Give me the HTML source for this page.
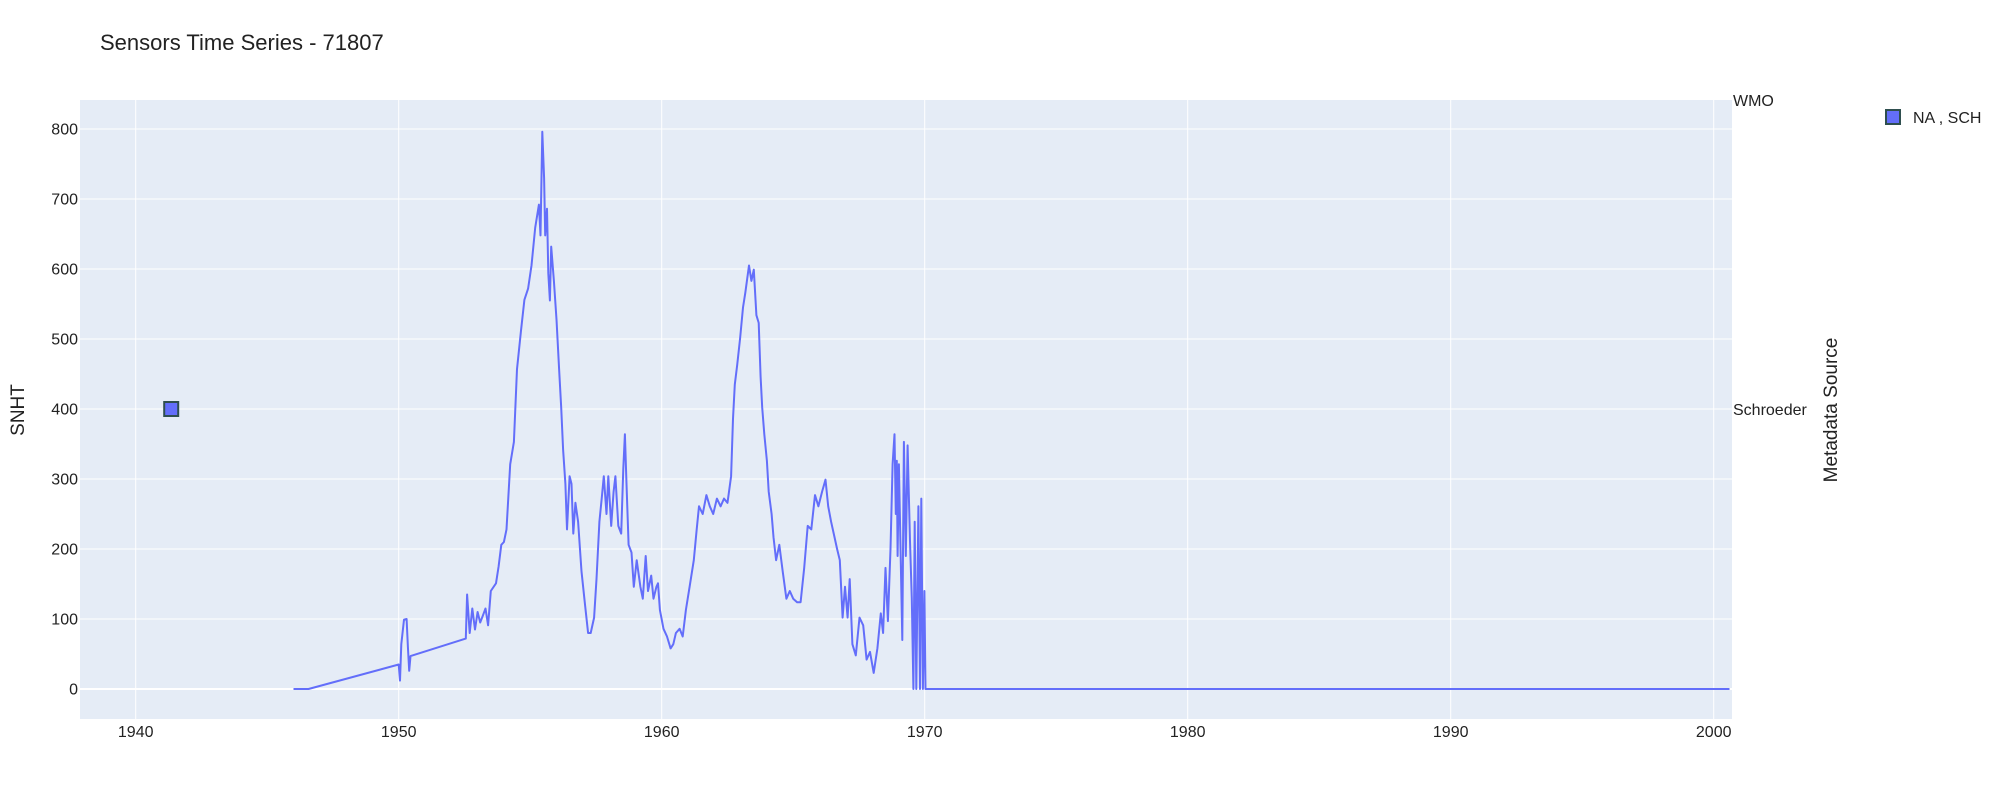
<!DOCTYPE html>
<html><head><meta charset="utf-8"><style>
html,body{margin:0;padding:0;background:#fff;}
svg{display:block;font-family:"Liberation Sans",sans-serif;}
</style></head><body>
<svg id="chart" width="2000" height="800" viewBox="0 0 2000 800">
<text x="100" y="50" font-size="22" fill="#222">Sensors Time Series - 71807</text>
<rect x="80" y="100" width="1652" height="619" fill="#e5ecf6"/>
<g id="grid"></g>
<g id="ticks"></g>
<g id="series"></g>
<text transform="translate(24,410) rotate(-90)" text-anchor="middle" font-size="19" fill="#222">SNHT</text>
<text transform="translate(1837,410) rotate(-90)" text-anchor="middle" font-size="19" fill="#222">Metadata Source</text>
<g>
<rect x="1886" y="110" width="14" height="14" fill="#636efa" stroke="#2f4f4f" stroke-width="2"/>
<text x="1913" y="123" font-size="16" fill="#222">NA , SCH</text>
</g>
</svg>
<script>
const xTicks = [1940,1950,1960,1970,1980,1990,2000];
const yTicks = [0,100,200,300,400,500,600,700,800];
const catTicks = ["WMO","Schroeder"];
const markerYears = [1941.35];
const markerCats = ["Schroeder"];
const years = [1946.0,1946.57,1950.0,1950.05,1950.1,1950.2,1950.3,1950.35,1950.4,1950.45,1952.55,1952.6,1952.7,1952.8,1952.9,1953.0,1953.1,1953.2,1953.3,1953.4,1953.5,1953.7,1953.8,1953.9,1954.0,1954.1,1954.24,1954.38,1954.5,1954.65,1954.78,1954.92,1955.05,1955.19,1955.33,1955.39,1955.46,1955.53,1955.57,1955.64,1955.69,1955.75,1955.8,1955.9,1956.0,1956.1,1956.18,1956.25,1956.34,1956.4,1956.5,1956.57,1956.64,1956.72,1956.82,1956.95,1957.09,1957.2,1957.3,1957.43,1957.52,1957.63,1957.72,1957.8,1957.9,1957.97,1958.08,1958.17,1958.24,1958.35,1958.46,1958.54,1958.6,1958.66,1958.74,1958.85,1958.94,1959.05,1959.19,1959.28,1959.39,1959.48,1959.6,1959.69,1959.8,1959.86,1959.93,1960.07,1960.2,1960.34,1960.44,1960.54,1960.68,1960.8,1960.92,1961.06,1961.22,1961.33,1961.42,1961.56,1961.7,1961.83,1961.96,1962.1,1962.24,1962.37,1962.5,1962.64,1962.71,1962.78,1962.87,1962.98,1963.09,1963.18,1963.32,1963.41,1963.5,1963.6,1963.69,1963.76,1963.82,1963.9,1964.0,1964.07,1964.18,1964.25,1964.35,1964.47,1964.6,1964.74,1964.87,1965.0,1965.15,1965.28,1965.42,1965.55,1965.69,1965.83,1965.96,1966.1,1966.23,1966.33,1966.44,1966.57,1966.67,1966.77,1966.88,1966.97,1967.07,1967.15,1967.25,1967.38,1967.52,1967.66,1967.79,1967.92,1968.06,1968.2,1968.33,1968.42,1968.51,1968.6,1968.7,1968.78,1968.85,1968.9,1968.94,1968.97,1969.02,1969.15,1969.21,1969.28,1969.35,1969.44,1969.51,1969.57,1969.62,1969.68,1969.76,1969.82,1969.87,1969.93,1969.99,1970.03,2000.6];
const values = [0,0,35,12,64,99,100,60,26,47,72,135,80,115,85,110,95,105,115,91,140,151,175,206,210,228,321,353,457,512,556,572,605,659,692,648,796,730,648,686,594,555,632,583,528,457,402,342,293,228,304,293,222,266,239,168,118,80,80,102,157,239,272,304,250,304,233,282,304,233,222,315,364,293,206,195,146,184,146,129,190,140,162,129,146,151,113,86,75,58,64,80,86,75,113,146,184,228,261,250,277,261,250,272,261,272,266,304,386,435,463,501,545,566,605,583,599,534,523,446,402,364,326,282,250,217,184,206,168,129,140,129,124,124,173,233,228,277,261,282,299,261,239,217,200,184,102,146,102,157,64,48,102,91,42,53,23,58,108,80,173,97,200,321,364,250,326,190,321,70,353,190,348,211,129,0,239,0,261,0,272,0,140,0,0];

const X0 = 135.7, PXY = 26.3, Y0 = 689, PXV = 0.7;
function xs(yr){ return X0 + (yr - 1940) * PXY; }
function ys(v){ return Y0 - v * PXV; }
function cy(c){ return c === "WMO" ? 100 : 409; }
const NS = "http://www.w3.org/2000/svg";
const grid = document.getElementById('grid');
const ticks = document.getElementById('ticks');
const series = document.getElementById('series');

xTicks.forEach(t => {
  const l = document.createElementNS(NS,'line');
  
  
  l.setAttribute('x1', xs(t)); l.setAttribute('x2', xs(t));
  l.setAttribute('y1', 100); l.setAttribute('y2', 719);
  l.setAttribute('stroke', '#fff'); l.setAttribute('stroke-width', 1);
  grid.appendChild(l);
  const tx = document.createElementNS(NS,'text');
  
  
  tx.setAttribute('x', xs(t)); tx.setAttribute('y', 737);
  tx.setAttribute('text-anchor', 'middle'); tx.setAttribute('font-size', 16); tx.setAttribute('fill', '#222');
  tx.textContent = t;
  ticks.appendChild(tx);
});
yTicks.forEach(t => {
  const l = document.createElementNS(NS,'line');
  
  
  l.setAttribute('x1', 80); l.setAttribute('x2', 1732);
  l.setAttribute('y1', ys(t)); l.setAttribute('y2', ys(t));
  l.setAttribute('stroke', '#fff'); l.setAttribute('stroke-width', t === 0 ? 2 : 1);
  grid.appendChild(l);
  const tx = document.createElementNS(NS,'text');
  
  
  tx.setAttribute('x', 78); tx.setAttribute('y', ys(t) + 5.5);
  tx.setAttribute('text-anchor', 'end'); tx.setAttribute('font-size', 16); tx.setAttribute('fill', '#222');
  tx.textContent = t;
  ticks.appendChild(tx);
});
catTicks.forEach(c => {
  const tx = document.createElementNS(NS,'text');
  
  
  tx.setAttribute('x', 1733); tx.setAttribute('y', cy(c) + 6);
  tx.setAttribute('font-size', 16); tx.setAttribute('fill', '#222');
  tx.textContent = c;
  ticks.appendChild(tx);
});
let d = '';
years.forEach((yr,i) => { d += (i ? 'L' : 'M') + xs(yr).toFixed(1) + ',' + ys(values[i]).toFixed(1); });
const p = document.createElementNS(NS,'path');


p.setAttribute('d', d); p.setAttribute('fill', 'none');
p.setAttribute('stroke', '#636efa'); p.setAttribute('stroke-width', 2); p.setAttribute('stroke-linejoin', 'round');
series.appendChild(p);
markerYears.forEach((yr,i) => {
  const r = document.createElementNS(NS,'rect');
  
  
  r.setAttribute('x', xs(yr) - 7); r.setAttribute('y', cy(markerCats[i]) - 7);
  r.setAttribute('width', 14); r.setAttribute('height', 14);
  r.setAttribute('fill', '#636efa'); r.setAttribute('stroke', '#2f4f4f'); r.setAttribute('stroke-width', 2);
  series.appendChild(r);
});
</script>
</body></html>
